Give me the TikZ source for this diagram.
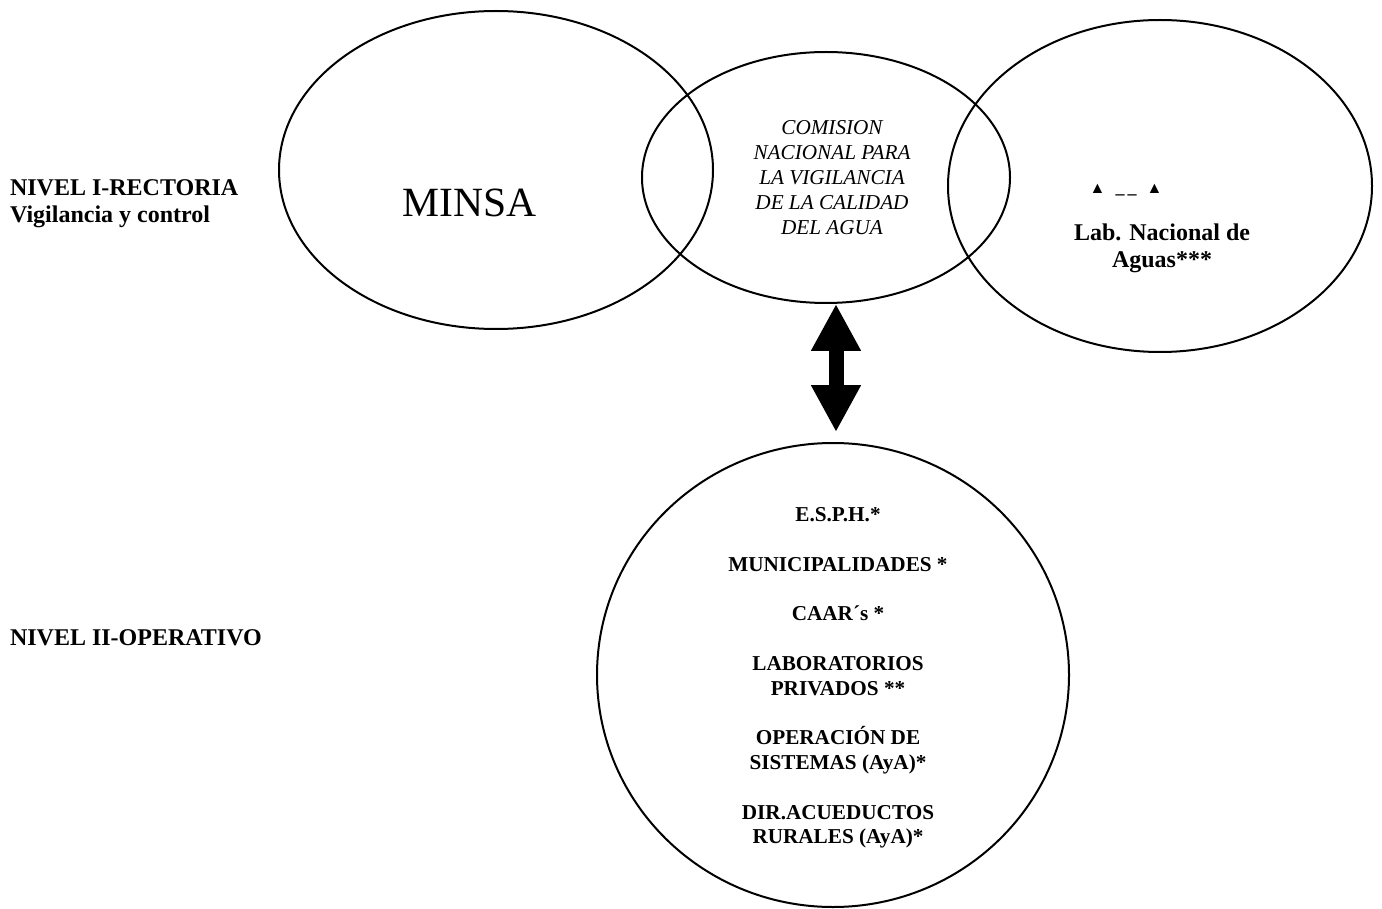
\documentclass[tikz,border=0pt]{standalone}
\usepackage{fontspec}
\setmainfont{Liberation Serif}
\usetikzlibrary{positioning,shapes.geometric,arrows.meta}

\begin{document}
\begin{tikzpicture}[x=0.5pt,y=-0.5pt,
    circulo/.style={draw,ellipse,line width=1pt,inner sep=0pt},
    nivel/.style={font=\bfseries\fontsize{12}{13.5}\selectfont,align=left},
    lista/.style={font=\bfseries\fontsize{10.6}{12.4}\selectfont,align=center},
    flecha/.style={line width=7.5pt,{Triangle[length=23.5pt,width=23.5pt]}-{Triangle[length=23.5pt,width=23.5pt]}}]
    \useasboundingbox (0,0) rectangle (1382,909);

    % Niveles
    \node[nivel,anchor=west] (nivel1) at (3,204) {NIVEL I-RECTORIA\\Vigilancia y control};
    \node[nivel,anchor=west] (nivel2) at (3,638) {NIVEL II-OPERATIVO};

    % Circulos del nivel I
    \node[circulo,minimum width=217pt,minimum height=159pt] (minsa) at (496,170) {};
    \node[circulo,minimum width=184pt,minimum height=125.5pt] (comision) at (826,177.5) {};
    \node[circulo,minimum width=212pt,minimum height=166pt] (lab) at (1160,186) {};

    % Textos del nivel I
    \node[font=\fontsize{20.8}{24}\selectfont] (minsatxt) at (470,202.5) {MINSA};
    \node[font=\itshape\fontsize{10.6}{12.5}\selectfont,align=center] (comisiontxt) at (832,178) {COMISION\\NACIONAL PARA\\LA VIGILANCIA\\DE LA CALIDAD\\DEL AGUA};
    \node[font=\bfseries\fontsize{12}{13.5}\selectfont] (simbolo) at (1126,190) {{\fontsize{8}{9}\selectfont ▲}\hspace{5pt}{\fontsize{9}{10}\selectfont\_\,\_}\hspace{5pt}{\fontsize{8}{9}\selectfont ▲}};
    \node[font=\bfseries\fontsize{12}{13.5}\selectfont,align=center] (labtxt) at (1162,248) {Lab. Nacional de\\Aguas***};

    % Nivel II
    \node[circulo,minimum width=236pt,minimum height=232pt] (operativo) at (833,675) {};
    \node[lista] (operativotxt) at (838,678) {E.S.P.H.*\\[12.4pt]MUNICIPALIDADES *\\[12.4pt]CAAR´s *\\[12.4pt]LABORATORIOS\\PRIVADOS **\\[12.4pt]OPERACIÓN DE\\SISTEMAS (AyA)*\\[12.4pt]DIR.ACUEDUCTOS\\RURALES (AyA)*};

    % Relacion entre niveles
    \draw[flecha,shorten >=5pt] ([xshift=5pt]comision.south) -- ([xshift=1.5pt]operativo.north);
\end{tikzpicture}
\end{document}
